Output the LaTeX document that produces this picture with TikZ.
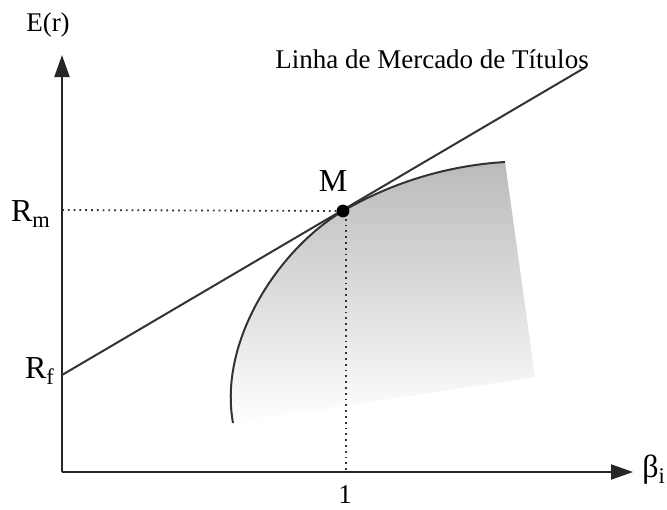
\documentclass[tikz,border=0pt]{standalone}
\usepackage{fontspec}
\setmainfont{Liberation Serif}
\usetikzlibrary{arrows.meta}
\begin{document}
\begin{tikzpicture}[x=0.5pt,y=-0.5pt,
  axis/.style={draw=black!85,line width=1pt,-{Triangle[length=11pt,width=7.5pt]}},
  sml/.style={draw=black!80,line width=1pt},
  guide/.style={draw=black!80,line width=0.9pt,dotted},
  lbl/.style={inner sep=0pt,font=\fontsize{13.5}{15}\selectfont},
  big/.style={inner sep=0pt,font=\fontsize{16}{18}\selectfont}]
\useasboundingbox (0,0) rectangle (667,509);
% coordinates
\coordinate (O) at (62,472);
\coordinate (ytop) at (62,55);
\coordinate (xend) at (633,472);
\coordinate (Rf) at (62,375);
\coordinate (Lend) at (586,67);
\coordinate (Rm) at (62,210);
\coordinate (M) at (343,211);
\coordinate (Mv) at (346,213);
\coordinate (Mb) at (346,472);
\coordinate (C0) at (233,423);
\coordinate (C1) at (505,162);
\coordinate (C2) at (535,377);
% shaded region
\shade[top color=black!27,bottom color=white]
  (C0) .. controls (218,340) and (280,248) .. (M)
       .. controls (398,179) and (455,165) .. (C1)
       -- (C2) -- cycle;
% frontier curve
\draw[sml] (C0) .. controls (218,340) and (280,248) .. (M)
       .. controls (398,179) and (455,165) .. (C1);
% guides
\draw[guide] (Rm) -- (M);
\draw[guide] (Mv) -- (Mb);
% axes
\draw[axis] (O) -- (ytop);
\draw[axis] (O) -- (xend);
% security market line
\draw[sml] (Rf) -- (Lend);
% market point
\fill[black] (M) circle (3.2pt);
% labels
\node[lbl] (Er) at (48,25) {E(r)};
\node[lbl] (sml) at (432,59) {Linha de Mercado de Títulos};
\node[big] (Mlab) at (333,181) {M};
\node[big] (Rmlab) at (31,214) {R\textsubscript{m}};
\node[big] (Rflab) at (40,371) {R\textsubscript{f}};
\node[lbl] (one) at (345,495) {1};
\node[big] (beta) at (654,470) {β\textsubscript{i}};
\end{tikzpicture}
\end{document}
